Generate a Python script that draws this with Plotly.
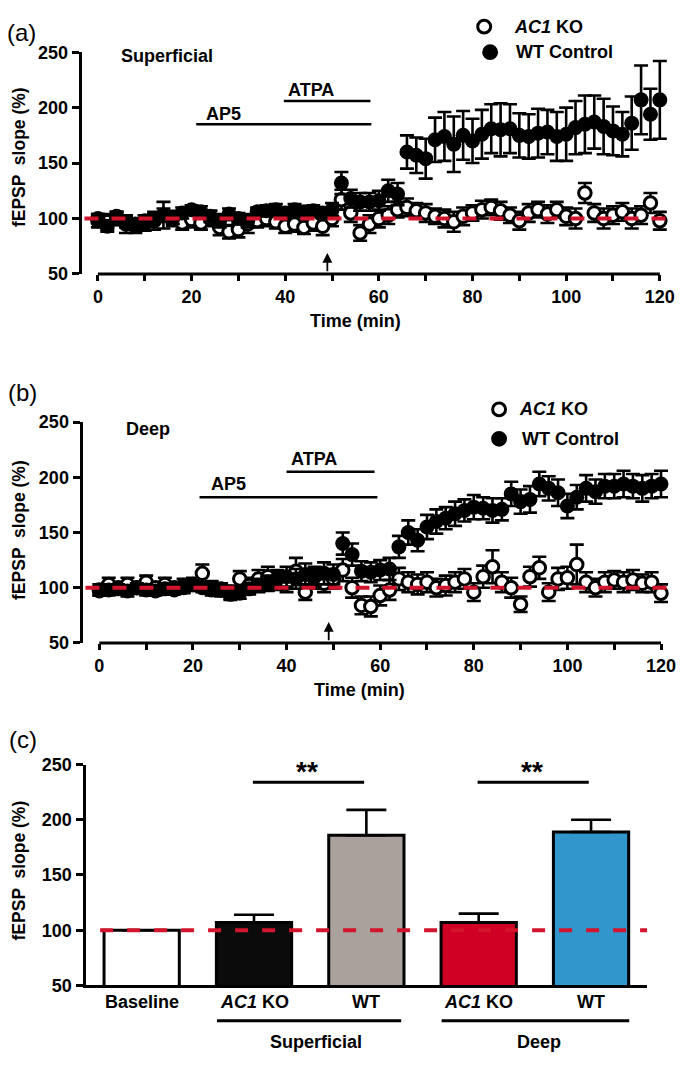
import plotly.graph_objects as go

W, H = 688, 1068
FONT = "Liberation Sans, Arial, sans-serif"


def px(x):
    return x / W


def py(y):
    return 1 - y / H


# ---------------- data ----------------
time_min = list(range(0, 121, 2))

sup_ko = [98, 97, 100, 95, 93, 96, 98, 103, 100, 96, 99, 96, 100, 92, 88, 90, 95, 98, 100, 97,
          93, 95, 92, 96, 93, 100, 117, 105, 87, 95, 100, 103, 108, 110, 107, 105, 102, 100, 97, 102,
          105, 108, 110, 107, 103, 98, 105, 108, 104, 108, 102, 100, 123, 105, 100, 103, 106, 100, 103, 114,
          98]
sup_ko_err = [6, 7, 6, 8, 6, 7, 8, 12, 7, 6, 7, 6, 7, 7, 6, 7, 8, 6, 7, 6,
              6, 7, 6, 7, 8, 7, 9, 8, 7, 8, 8, 8, 7, 8, 7, 8, 7, 8, 9, 8,
              7, 8, 7, 8, 7, 8, 8, 7, 8, 7, 8, 9, 9, 8, 9, 8, 8, 9, 8, 9,
              8]
sup_wt = [100, 93, 102, 97, 95, 98, 100, 103, 100, 105, 108, 106, 102, 98, 104, 100, 98, 106, 107, 108,
          105, 108, 106, 107, 105, 108, 132, 118, 115, 115, 116, 125, 122, 160, 157, 154, 171, 174, 167, 175,
          170, 176, 181, 180, 181, 175, 174, 177, 178, 174, 176, 182, 185, 187, 183, 179, 176, 186, 207, 194,
          207]
sup_wt_err = [4, 5, 4, 5, 4, 5, 4, 6, 5, 5, 4, 5, 5, 6, 5, 5, 6, 4, 5, 5,
              4, 5, 4, 5, 5, 6, 10, 8, 8, 8, 9, 10, 10, 15, 16, 18, 20, 22, 25, 22,
              20, 22, 22, 24, 22, 20, 20, 22, 20, 22, 24, 24, 26, 24, 25, 22, 20, 24, 31, 23,
              35]

deep_ko = [98, 103, 100, 103, 100, 105, 100, 103, 100, 102, 103, 113, 100, 98, 96, 108, 102, 108, 110, 106,
           104, 115, 96, 108, 104, 108, 116, 100, 84, 83, 93, 98, 108, 105, 103, 105, 100, 102, 105, 108,
           96, 110, 119, 105, 100, 85, 110, 118, 96, 108, 109, 121, 105, 100, 105, 107, 105, 107, 104, 105,
           95]
deep_ko_err = [5, 6, 5, 6, 5, 6, 5, 6, 5, 6, 6, 8, 6, 6, 6, 7, 7, 8, 9, 8,
               8, 12, 7, 9, 8, 9, 10, 9, 8, 9, 9, 9, 10, 9, 9, 9, 8, 9, 9, 9,
               8, 10, 15, 9, 9, 7, 9, 10, 8, 10, 10, 18, 9, 8, 9, 8, 9, 9, 8, 9,
               8]
deep_wt = [97, 98, 99, 97, 100, 98, 97, 99, 98, 100, 103, 100, 98, 99, 94, 95, 99, 102, 104, 108,
           110, 108, 112, 110, 113, 112, 140, 130, 115, 114, 116, 117, 137, 150, 143, 155, 160, 163, 167, 170,
           173, 172, 170, 171, 185, 178, 180, 194, 190, 186, 174, 182, 190, 187, 192, 192, 194, 192, 190, 192,
           194]
deep_wt_err = [4, 5, 4, 5, 4, 5, 4, 5, 4, 5, 5, 4, 5, 4, 5, 5, 5, 6, 7, 8,
               9, 9, 10, 9, 10, 9, 10, 10, 9, 9, 9, 10, 10, 11, 10, 11, 11, 10, 11, 10,
               11, 10, 11, 10, 11, 11, 12, 11, 11, 12, 11, 11, 12, 11, 11, 11, 12, 11, 12, 11,
               12]

bar_labels = ["<b>Baseline</b>", "<b><i>AC1</i> KO</b>", "<b>WT</b>", "<b><i>AC1</i> KO</b>", "<b>WT</b>"]
bar_values = [100, 107, 186, 107, 189]
bar_errors = [None, 7, 23, 8, 11]
bar_colors = ["#ffffff", "#0b0b0b", "#aaa19d", "#cf0023", "#3196cb"]
group_labels = ["<b>Superficial</b>", "<b>Deep</b>"]

y_ticks = [50, 100, 150, 200, 250]
x_ticks = list(range(0, 121, 10))
x_ticktext = [str(v) if v % 20 == 0 else "" for v in x_ticks]

RED = "#d2142d"

fig = go.Figure()

# ---------------- panels (a) and (b) ----------------
panels = [
    ("x", "y", sup_ko, sup_ko_err, sup_wt, sup_wt_err),
    ("x2", "y2", deep_ko, deep_ko_err, deep_wt, deep_wt_err),
]
for xa, ya, ko, koe, wt, wte in panels:
    fig.add_trace(go.Scatter(
        x=time_min, y=ko, mode="markers", xaxis=xa, yaxis=ya, showlegend=False,
        marker=dict(symbol="circle", size=12.5, color="white", line=dict(color="black", width=3)),
        error_y=dict(type="data", array=koe, color="black", thickness=2.6, width=7),
    ))
    fig.add_trace(go.Scatter(
        x=time_min, y=wt, mode="markers", xaxis=xa, yaxis=ya, showlegend=False,
        marker=dict(symbol="circle", size=15, color="black", line=dict(width=0)),
        error_y=dict(type="data", array=wte, color="black", thickness=2.6, width=7),
    ))

# ---------------- panel (c) ----------------
bar_x = list(range(len(bar_values)))
fig.add_trace(go.Bar(
    x=bar_x, y=bar_values, xaxis="x3", yaxis="y3", width=0.67, showlegend=False,
    marker=dict(color=bar_colors, line=dict(color="black", width=3)),
    error_y=dict(type="data", symmetric=False, array=bar_errors,
                 arrayminus=[0] * len(bar_values), color="black", thickness=2.6, width=20),
))

axis_common = dict(showgrid=False, zeroline=False, color="black",
                   tickfont=dict(family=FONT, size=18, color="black", weight="bold"))
yaxis_common = dict(axis_common, range=[50, 250], tickvals=y_ticks, showline=True, linewidth=3,
                    linecolor="black", ticks="outside", ticklen=7, tickwidth=2.6, tickcolor="black")
xaxis_time = dict(axis_common, tickvals=x_ticks, ticktext=x_ticktext, showline=False,
                  ticks="outside", ticklen=6, tickwidth=2.6, tickcolor="black")

dom_a = [py(269), py(43)]
dom_b = [py(645), py(420)]
dom_c = [py(994), py(769)]

fig.update_layout(
    width=W, height=H, margin=dict(l=0, r=0, t=0, b=0),
    paper_bgcolor="white", plot_bgcolor="white",
    xaxis=dict(xaxis_time, domain=[px(82), px(674.5)], range=[-3.5, 122.3], anchor="y"),
    yaxis=dict(yaxis_common, domain=dom_a, anchor="x"),
    xaxis2=dict(xaxis_time, domain=[px(83), px(675.7)], range=[-3.6, 122.3], anchor="y2"),
    yaxis2=dict(yaxis_common, domain=dom_b, anchor="x2"),
    xaxis3=dict(axis_common, domain=[px(86), px(651)], range=[-0.5, 4.5], anchor="y3",
                showline=True, linewidth=3, linecolor="black", ticks="", showticklabels=False),
    yaxis3=dict(yaxis_common, domain=dom_c, anchor="x3"),
)

shapes = []
annotations = []


def text(x, y, s, size=18, xanchor="center", yanchor="middle", xref="paper", yref="paper", angle=0):
    annotations.append(dict(x=x, y=y, xref=xref, yref=yref, text=s, showarrow=False,
                            xanchor=xanchor, yanchor=yanchor, textangle=angle,
                            font=dict(family=FONT, size=size, color="black")))


# x axis lines (offset style) for (a) and (b)
for xa, ybot in (("x", dom_a[0]), ("x2", dom_b[0])):
    shapes.append(dict(type="line", xref=xa, yref="paper", x0=0, x1=120, y0=ybot, y1=ybot,
                       line=dict(color="black", width=3)))

# red dashed 100% lines
for xa, ya in (("x", "y"), ("x2", "y2")):
    shapes.append(dict(type="line", xref=xa + " domain", yref=ya, x0=0.005, x1=1, y0=100, y1=100,
                       layer="above", line=dict(color=RED, width=4, dash="14px,13px")))
shapes.append(dict(type="line", xref="x3", yref="y3", x0=-0.37, x1=4.5, y0=100, y1=100,
                   layer="above", line=dict(color=RED, width=4, dash="13px,14px")))

# drug application bars
drug_bars = [
    ("x", "y", 39.7, 58.2, 206, 21.0, 58.4, 185, 216, 194, 22.7),
    ("x2", "y2", 40.0, 58.8, 205, 21.4, 59.4, 182, 217, 194, 23.4),
]
for xa, ya, a0, a1, ay_, p0, p1, py_, aty, apy, apx in drug_bars:
    shapes.append(dict(type="line", xref=xa, yref=ya, x0=a0, x1=a1, y0=ay_, y1=ay_,
                       line=dict(color="black", width=2.5)))
    shapes.append(dict(type="line", xref=xa, yref=ya, x0=p0, x1=p1, y0=py_, y1=py_,
                       line=dict(color="black", width=2.5)))
    text(a0 + 0.5, aty, "<b>ATPA</b>", xanchor="left", xref=xa, yref=ya)
    text(apx, apy, "<b>AP5</b>", xanchor="left", xref=xa, yref=ya)
    annotations.append(dict(x=49, y=69, xref=xa, yref=ya, ax=49, ay=51, axref=xa, ayref=ya,
                            text="", showarrow=True, arrowhead=2, arrowsize=1.1, arrowwidth=1.8,
                            arrowcolor="black"))

# panel letters and titles
text(px(22), py(23), "(a)", size=24)
text(px(23), py(390), "(b)", size=24)
text(px(23), py(743), "(c)", size=24)
text(px(120), py(47), "<b>Superficial</b>", xanchor="left")
text(px(125), py(427), "<b>Deep</b>", xanchor="left")
text(px(358), py(317), "<b>Time (min)</b>")
text(px(362), py(693), "<b>Time (min)</b>")
for yc in (150, 530, 877):
    text(px(19), py(yc), "<b>fEPSP  slope (%)</b>", size=17.5, angle=-90)

# legends
legend_pos = [((487, 17), (493, 43), 515, 517), ((502, 407), (502, 437), 520, 523)]
for (ocx, ocy), (fcx, fcy), tx1, tx2 in legend_pos:
    r = 6.5
    shapes.append(dict(type="circle", xref="paper", yref="paper", x0=px(ocx - r), x1=px(ocx + r),
                       y0=py(ocy + r), y1=py(ocy - r), fillcolor="white",
                       line=dict(color="black", width=3)))
    r = 8
    shapes.append(dict(type="circle", xref="paper", yref="paper", x0=px(fcx - r), x1=px(fcx + r),
                       y0=py(fcy + r), y1=py(fcy - r), fillcolor="black",
                       line=dict(color="black", width=0)))
    text(px(tx1), py(ocy), "<b><i>AC1</i> KO</b>", xanchor="left")
    text(px(tx2), py(fcy), "<b>WT Control</b>", xanchor="left")

# panel (c) labels
for i, lab in enumerate(bar_labels):
    text(i, py(1011), lab, xref="x3")
groups = [(0.67, 2.31, 1.55, group_labels[0]), (2.67, 4.34, 3.54, group_labels[1])]
for g0, g1, gc, lab in groups:
    shapes.append(dict(type="line", xref="x3", yref="paper", x0=g0, x1=g1, y0=py(1030), y1=py(1030),
                       line=dict(color="black", width=3)))
    text(gc, py(1052), lab, xref="x3")

# significance
for s0, s1 in ((1, 2), (3, 4)):
    shapes.append(dict(type="line", xref="x3", yref="y3", x0=s0 - 0.01, x1=s1 - 0.02, y0=234, y1=234,
                       line=dict(color="black", width=3)))
    text((s0 + s1) / 2 - 0.03, py(776), "<b>**</b>", size=28, xref="x3")

fig.update_layout(shapes=shapes, annotations=annotations)
fig.write_html("out.html", config={"displayModeBar": False},
               post_script="document.body.style.margin='0';document.body.style.overflow='hidden';")
